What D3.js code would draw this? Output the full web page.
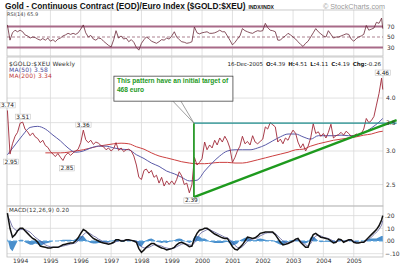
<!DOCTYPE html>
<html lang="en">
  <head>
    <meta charset="UTF-8" />
    <script src="https://d3js.org/d3.v7.min.js"></script>
    <title>Gold / Euro Index</title>
    <style type="text/css">
      body {
        margin: 0;
        background: #fff;
      }
      svg {
        display: block;
        font-family: Arial, 'Liberation Sans', sans-serif;
      }
      .axis-r path,
      .axis-r line,
      .axis-x path,
      .axis-x line {
        display: none;
      }
      .axis-r text,
      .axis-x text {
        fill: #333;
        font-size: 6px;
        font-family: 'DejaVu Sans', sans-serif;
      }
      .small {
        font-family: 'DejaVu Sans', sans-serif;
      }
    </style>
  </head>
  <body>
    <svg width="400" height="266"></svg>
  </body>
  <script type="text/javascript">
    // monthly closes from Aug 1993 to Nov 2005, then the two December weeks
    const firstMonth = new Date(1993, 7, 1);
    const lastMonth = new Date(2005, 11, 1);
    const lastWeeks = ['2005-12-02', '2005-12-16'];

    const price = [
      3.74, 2.95, 3.12, 3.25, 3.32,
      3.49, 3.51, 3.38, 3.33, 3.26, 3.31, 3.24, 3.21, 3.14, 3.18, 3.09, 3.06,
      2.99, 2.95, 2.91, 2.96, 2.9, 2.85, 2.93, 2.97, 2.93, 2.97, 3.0, 3.03,
      3.14, 3.36, 3.19, 3.14, 3.18, 3.11, 3.15, 3.13, 3.09, 3.07, 3.02, 3.05,
      3.0, 3.04, 3.14, 3.01, 3.05, 2.99, 3.02, 3.03, 3.0, 2.92, 2.78, 2.6,
      2.57, 2.7, 2.72, 2.66, 2.7, 2.6, 2.63, 2.52, 2.6, 2.48, 2.55, 2.5,
      2.55, 2.5, 2.57, 2.68, 2.62, 2.5, 2.52, 2.39, 2.5, 2.9, 2.78, 2.82,
      2.88, 3.15, 3.02, 3.1, 3.05, 3.18, 3.1, 3.22, 3.15, 3.25, 3.17, 3.05,
      2.82, 2.9, 3.0, 3.08, 3.25, 3.12, 3.16, 3.1, 3.26, 3.15, 3.12, 3.16,
      3.2, 3.42, 3.38, 3.5, 3.46, 3.42, 3.15, 3.2, 3.12, 3.22, 3.18, 3.28,
      3.36, 3.3, 3.15, 3.05, 3.12, 3.0, 3.08, 3.22, 3.48, 3.3, 3.33, 3.25,
      3.3, 3.22, 3.32, 3.47, 3.22, 3.26, 3.28, 3.32, 3.27, 3.34, 3.3, 3.25,
      3.26, 3.29, 3.27, 3.3, 3.38, 3.58, 3.5, 3.54, 3.62, 3.85, 4.1,
      4.46, 4.19,
    ];

    const rsi = [
      73, 44, 58, 63, 60,
      63, 60, 54, 52, 48, 50, 49, 46, 44, 47, 44, 48,
      42, 45, 41, 46, 48, 52, 54, 57, 55, 57, 55, 58,
      65, 73, 58, 50, 53, 46, 44, 48, 47, 42, 38, 34,
      31, 45, 62, 48, 52, 46, 48, 41, 45, 40, 30, 25,
      38, 45, 50, 47, 42, 40, 38, 41, 45, 44, 48, 46,
      52, 60, 50, 45, 41, 40, 38, 39, 41, 69, 58, 56,
      58, 59, 60, 57, 57, 58, 60, 63, 60, 60, 52, 44,
      35, 40, 46, 52, 66, 62, 60, 58, 57, 60, 62, 61,
      62, 76, 68, 63, 62, 60, 44, 44, 49, 52, 57, 54,
      50, 46, 41, 36, 32, 38, 42, 50, 58, 66, 60, 56,
      52, 50, 62, 55, 48, 50, 50, 52, 54, 56, 55, 46,
      42, 47, 50, 52, 55, 72, 63, 65, 67, 78, 76,
      86, 65.9,
    ];

    const macd = [
      0.22, 0.1, 0.03, 0.05, 0.08,
      0.1, 0.1, 0.08, 0.06, 0.04, 0.02, 0.01, -0.01, -0.04, -0.045, -0.05, -0.055,
      -0.055, -0.05, -0.05, -0.05, -0.04, -0.03, -0.025, -0.02, -0.015, -0.015, 0.0, 0.025,
      0.06, 0.09, 0.08, 0.06, 0.04, 0.02, 0.01, 0.0, -0.01, -0.015, -0.02, -0.025,
      -0.02, -0.01, 0.01, 0.01, 0.0, 0.0, 0.01, 0.01, 0.005, 0.0, -0.01, -0.06,
      -0.09, -0.07, -0.05, -0.035, -0.02, -0.02, -0.035, -0.045, -0.055, -0.06, -0.07, -0.065,
      -0.06, -0.05, -0.03, -0.015, -0.01, -0.02, -0.03, -0.045, -0.04, 0.02, 0.06, 0.085,
      0.09, 0.1, 0.1, 0.085, 0.07, 0.055, 0.045, 0.035, 0.025, 0.02, 0.02, -0.01,
      -0.045, -0.065, -0.07, -0.05, -0.03, 0.0, 0.03, 0.025, 0.02, 0.025, 0.04, 0.06,
      0.065, 0.07, 0.07, 0.07, 0.07, 0.05, 0.02, -0.01, -0.03, -0.025, -0.02, -0.01,
      0.0, 0.015, 0.02, -0.01, -0.03, -0.05, -0.05, 0.01, 0.05, 0.06, 0.045, 0.03,
      0.025, 0.02, 0.015, 0.0, -0.015, -0.01, 0.015, 0.01, -0.01, 0.0, 0.01, 0.01,
      -0.01, -0.015, -0.015, -0.01, -0.01, 0.01, 0.03, 0.05, 0.07, 0.09, 0.12,
      0.165, 0.2,
    ];

    const signal = [
      0.2, 0.16, 0.11, 0.09, 0.08,
      0.09, 0.09, 0.09, 0.08, 0.07, 0.05, 0.03, 0.015, 0.0, -0.015, -0.03, -0.04,
      -0.045, -0.05, -0.05, -0.05, -0.045, -0.04, -0.035, -0.03, -0.025, -0.02, -0.015, 0.0,
      0.02, 0.05, 0.065, 0.065, 0.055, 0.04, 0.03, 0.015, 0.005, -0.005, -0.01, -0.015,
      -0.02, -0.015, -0.005, 0.0, 0.005, 0.005, 0.005, 0.005, 0.005, 0.003, 0.0, -0.02,
      -0.045, -0.055, -0.055, -0.05, -0.04, -0.03, -0.03, -0.035, -0.04, -0.05, -0.055, -0.06,
      -0.06, -0.055, -0.045, -0.035, -0.025, -0.02, -0.025, -0.03, -0.035, -0.015, 0.02, 0.05,
      0.07, 0.08, 0.09, 0.09, 0.08, 0.07, 0.06, 0.05, 0.04, 0.03, 0.025, 0.01,
      -0.01, -0.035, -0.05, -0.055, -0.045, -0.025, 0.0, 0.01, 0.015, 0.02, 0.025, 0.04,
      0.05, 0.06, 0.065, 0.065, 0.065, 0.06, 0.04, 0.02, 0.0, -0.01, -0.015, -0.012,
      -0.005, 0.005, 0.01, 0.0, -0.015, -0.03, -0.04, -0.02, 0.015, 0.04, 0.045, 0.04,
      0.03, 0.025, 0.02, 0.01, 0.0, -0.005, 0.0, 0.005, 0.0, -0.002, 0.003, 0.006,
      0.0, -0.008, -0.012, -0.012, -0.01, 0.0, 0.015, 0.03, 0.05, 0.07, 0.09,
      0.125, 0.16,
    ];

    const hist = [
      0.02, -0.06, -0.08, -0.04, 0.0,
      0.01, 0.01, -0.01, -0.02, -0.03, -0.03, -0.02, -0.025, -0.04, -0.03, -0.02, -0.015,
      -0.01, 0.0, 0.0, 0.0, 0.005, 0.01, 0.01, 0.01, 0.01, 0.005, 0.015, 0.025,
      0.04, 0.04, 0.015, -0.005, -0.015, -0.02, -0.02, -0.015, -0.015, -0.01, -0.01, -0.01,
      0.0, 0.005, 0.015, 0.01, -0.005, -0.005, 0.005, 0.005, 0.0, -0.003, -0.01, -0.04,
      -0.045, -0.015, 0.005, 0.015, 0.02, 0.01, -0.005, -0.01, -0.015, -0.01, -0.015, -0.005,
      0.0, 0.005, 0.015, 0.02, 0.015, 0.0, -0.005, -0.015, -0.005, 0.035, 0.04, 0.035,
      0.02, 0.02, 0.01, -0.005, -0.01, -0.015, -0.015, -0.015, -0.015, -0.01, -0.005, -0.02,
      -0.035, -0.03, -0.02, 0.005, 0.015, 0.025, 0.03, 0.015, 0.005, 0.005, 0.015, 0.02,
      0.015, 0.01, 0.005, 0.005, 0.005, -0.01, -0.02, -0.03, -0.03, -0.015, -0.005, 0.002,
      0.005, 0.01, 0.01, -0.01, -0.015, -0.02, -0.01, 0.03, 0.035, 0.02, 0.0, -0.01,
      -0.005, -0.005, -0.005, -0.01, -0.015, -0.005, 0.015, 0.005, -0.01, 0.002, 0.007, 0.004,
      -0.01, -0.007, -0.003, 0.002, 0.0, 0.01, 0.015, 0.02, 0.02, 0.02, 0.03,
      0.04, 0.04,
    ];

    // moving averages read every quarter from Aug 1993, plus the last week
    const ma50 = [
      2.94, 3.1, 3.27, 3.41, 3.43, 3.38, 3.27, 3.17, 3.05, 2.98,
      3.0, 3.05, 3.08, 3.08, 3.05, 3.03, 3.02, 2.94, 2.88, 2.81, 2.76, 2.69,
      2.65, 2.6, 2.55, 2.56, 2.69, 2.81, 2.92, 3.0, 3.02, 3.02, 3.02, 3.05,
      3.1, 3.17, 3.24, 3.29, 3.29, 3.24, 3.2, 3.26, 3.26, 3.26, 3.27, 3.26,
      3.26, 3.31, 3.4, 3.51, 3.58,
    ];
    const ma200 = [
      null, null, null, null, null, 2.97, 2.97, 2.97, 2.98, 3.0,
      3.02, 3.05, 3.08, 3.1, 3.12, 3.13, 3.12, 3.07, 3.03, 2.97, 2.92, 2.89,
      2.86, 2.83, 2.81, 2.8, 2.8, 2.81, 2.82, 2.82, 2.81, 2.81, 2.83, 2.86,
      2.89, 2.92, 2.95, 2.98, 3.02, 3.03, 3.08, 3.12, 3.15, 3.18, 3.2, 3.22,
      3.24, 3.27, 3.29, 3.33, 3.34,
    ];

    // labelled highs and lows
    const callouts = [
      { date: '1993-08-01', value: 3.74, above: true, dx: 0 },
      { date: '1993-09-01', value: 2.95, above: false, dx: 1 },
      { date: '1994-02-01', value: 3.51, above: true, dx: 0 },
      { date: '1995-06-01', value: 2.85, above: false, dx: 4 },
      { date: '1996-02-01', value: 3.36, above: true, dx: 0 },
      { date: '1999-08-01', value: 2.39, above: false, dx: 2 },
      { date: '2005-12-02', value: 4.46, above: true, dx: 1 },
    ];

    // triangle drawn on the chart
    const triangleBase = { date: '1999-09-25', low: 2.336, high: 3.49 };
    const triangleEnd = { date: '2006-06-01', top: 3.49, trend: 3.55 };

    const years = d3.range(1994, 2006);
    const rsiTicks = [30, 50, 70];
    const priceTicks = [2.5, 3.0, 3.5, 4.0];
    const macdTicks = [-0.1, 0, 0.1, 0.2];

    // ---

    const parse = d3.timeParse('%Y-%m-%d');
    const dates = d3.timeMonth.range(firstMonth, lastMonth).concat(lastWeeks.map(parse));
    const maDates = d3.range(ma50.length - 1).map((i) => d3.timeMonth.offset(firstMonth, i * 3));
    maDates.push(parse(lastWeeks[1]));

    const left = 7;
    const right = 383;
    const panels = {
      rsi: { top: 10, bottom: 56 },
      main: { top: 57, bottom: 206 },
      macd: { top: 206, bottom: 257 },
    };

    const svg = d3.select('svg');

    const x = d3
      .scaleTime()
      .domain([new Date(1993, 6, 27), new Date(2005, 11, 19)])
      .range([left, right]);
    const yRsi = d3.scaleLinear().domain([0, 100]).range([63.25, 10.75]);
    const yPrice = d3.scaleLog().domain([2.225, 5.0]).range([206, 57]);
    const yMacd = d3.scaleLinear().domain([-0.126, 0.2756]).range([257, 206]);

    const yearDates = years.map((y) => new Date(y, 0, 1));

    // grid
    const grid = svg.append('g');
    Object.values(panels).forEach((p) => {
      grid
        .selectAll(null)
        .data(yearDates)
        .enter()
        .append('line')
        .attr('x1', (d) => x(d))
        .attr('x2', (d) => x(d))
        .attr('y1', p.top)
        .attr('y2', p.bottom)
        .attr('stroke', '#d9d9d9')
        .attr('stroke-width', 0.8);
    });
    grid
      .selectAll(null)
      .data(priceTicks)
      .enter()
      .append('line')
      .attr('x1', left)
      .attr('x2', right)
      .attr('y1', (d) => yPrice(d))
      .attr('y2', (d) => yPrice(d))
      .attr('stroke', '#d9d9d9')
      .attr('stroke-width', 0.8);
    grid
      .selectAll(null)
      .data(macdTicks.filter((d) => d !== 0))
      .enter()
      .append('line')
      .attr('x1', left)
      .attr('x2', right)
      .attr('y1', (d) => yMacd(d))
      .attr('y2', (d) => yMacd(d))
      .attr('stroke', '#d9d9d9')
      .attr('stroke-width', 0.8);

    // panel frames
    Object.values(panels).forEach((p) => {
      svg
        .append('rect')
        .attr('x', left)
        .attr('y', p.top)
        .attr('width', right - left)
        .attr('height', p.bottom - p.top)
        .attr('fill', 'none')
        .attr('stroke', '#bdbdbd')
        .attr('stroke-width', 0.8);
    });

    // RSI panel
    const rsiG = svg.append('g');
    rsiTicks.forEach((t) => {
      rsiG
        .append('line')
        .attr('x1', left)
        .attr('x2', right)
        .attr('y1', yRsi(t))
        .attr('y2', yRsi(t))
        .attr('stroke', t === 50 ? '#8a4a60' : '#a86a88')
        .attr('stroke-width', t === 50 ? 0.7 : 1.8)
        .attr('stroke-dasharray', t === 50 ? '3,2' : null);
    });
    rsiG
      .append('path')
      .datum(rsi)
      .attr('fill', 'none')
      .attr('stroke', '#6a2838')
      .attr('stroke-width', 0.8)
      .attr(
        'd',
        d3
          .line()
          .x((d, i) => x(dates[i]))
          .y((d) => yRsi(d))
      );

    // price panel
    const mainG = svg.append('g');
    const maLine = d3
      .line()
      .defined((d) => d != null)
      .x((d, i) => x(maDates[i]))
      .y((d) => yPrice(d))
      .curve(d3.curveMonotoneX);
    mainG
      .append('path')
      .datum(ma200)
      .attr('fill', 'none')
      .attr('stroke', '#cc4040')
      .attr('stroke-width', 1)
      .attr('d', maLine);
    mainG
      .append('path')
      .datum(ma50)
      .attr('fill', 'none')
      .attr('stroke', '#5a5aa8')
      .attr('stroke-width', 1)
      .attr('d', maLine);
    mainG
      .append('path')
      .datum(price)
      .attr('fill', 'none')
      .attr('stroke', '#a02838')
      .attr('stroke-width', 0.9)
      .attr(
        'd',
        d3
          .line()
          .x((d, i) => x(dates[i]))
          .y((d) => yPrice(d))
      );

    // triangle pattern
    const tx0 = x(parse(triangleBase.date));
    const tx1 = x(parse(triangleEnd.date));
    mainG
      .append('line')
      .attr('x1', tx0)
      .attr('x2', tx1)
      .attr('y1', yPrice(triangleBase.high))
      .attr('y2', yPrice(triangleEnd.top))
      .attr('stroke', '#1d8c8c')
      .attr('stroke-width', 1.4);
    mainG
      .append('line')
      .attr('x1', tx0)
      .attr('x2', tx0)
      .attr('y1', yPrice(triangleBase.low))
      .attr('y2', yPrice(triangleBase.high))
      .attr('stroke', '#2a9a2a')
      .attr('stroke-width', 1.8);
    mainG
      .append('line')
      .attr('x1', tx0)
      .attr('x2', tx1)
      .attr('y1', yPrice(triangleBase.low))
      .attr('y2', yPrice(triangleEnd.trend))
      .attr('stroke', '#1e9a1e')
      .attr('stroke-width', 2.4);

    // callout box
    const ax = tx0;
    const ay = yPrice(triangleBase.high);
    const note = mainG.append('g');
    note
      .append('path')
      .attr('d', `M${ax - 21},${ay - 22} L${ax},${ay} L${ax - 13},${ay - 22}`)
      .attr('fill', '#fff')
      .attr('stroke', '#777')
      .attr('stroke-width', 0.7);
    note
      .append('rect')
      .attr('x', ax - 80)
      .attr('y', ay - 47)
      .attr('width', 119)
      .attr('height', 25)
      .attr('fill', '#fff')
      .attr('stroke', '#444')
      .attr('stroke-width', 0.8);
    note
      .append('text')
      .attr('x', ax - 77)
      .attr('y', ay - 40)
      .attr('fill', '#1e9a1e')
      .attr('font-size', 6.6)
      .attr('font-weight', 'bold')
      .text('This pattern have an initial target of');
    note
      .append('text')
      .attr('x', ax - 77)
      .attr('y', ay - 31.5)
      .attr('fill', '#1e9a1e')
      .attr('font-size', 6.6)
      .attr('font-weight', 'bold')
      .text('468 euro');

    // high / low labels
    const calloutG = mainG
      .selectAll('.callout')
      .data(callouts)
      .enter()
      .append('g')
      .attr('class', 'callout');
    calloutG
      .append('text')
      .attr('class', 'small')
      .attr('x', (d) => x(parse(d.date)) + d.dx)
      .attr('y', (d) => yPrice(d.value) + (d.above ? -3.5 : 9.5))
      .attr('text-anchor', 'middle')
      .attr('font-size', 5.8)
      .attr('fill', '#222')
      .text((d) => d3.format('.2f')(d.value));
    calloutG.each(function () {
      const g = d3.select(this);
      const b = g.select('text').node().getBBox();
      g.insert('rect', 'text')
        .attr('x', b.x - 1)
        .attr('y', b.y + 0.5)
        .attr('width', b.width + 2)
        .attr('height', b.height - 0.5)
        .attr('fill', '#fff')
        .attr('stroke', '#bbb')
        .attr('stroke-width', 0.5);
    });

    // MACD panel
    const macdG = svg.append('g');
    macdG
      .append('path')
      .datum(hist)
      .attr('fill', '#4a8fcc')
      .attr(
        'd',
        d3
          .area()
          .x((d, i) => x(dates[i]))
          .y0(yMacd(0))
          .y1((d) => yMacd(d))
      );
    macdG
      .append('line')
      .attr('x1', left)
      .attr('x2', right)
      .attr('y1', yMacd(0))
      .attr('y2', yMacd(0))
      .attr('stroke', '#5aa4dc')
      .attr('stroke-width', 1)
      .attr('stroke-dasharray', '4,2');
    macdG
      .append('path')
      .datum(signal)
      .attr('fill', 'none')
      .attr('stroke', '#4a4a90')
      .attr('stroke-width', 0.7)
      .attr(
        'd',
        d3
          .line()
          .x((d, i) => x(dates[i]))
          .y((d) => yMacd(d))
      );
    macdG
      .append('path')
      .datum(macd)
      .attr('fill', 'none')
      .attr('stroke', '#111')
      .attr('stroke-width', 1.5)
      .attr(
        'd',
        d3
          .line()
          .x((d, i) => x(dates[i]))
          .y((d) => yMacd(d))
      );

    // axes
    svg
      .append('g')
      .attr('class', 'axis-r')
      .attr('transform', `translate(${right}, 0)`)
      .call(d3.axisRight(yRsi).tickValues(rsiTicks).tickSize(0).tickPadding(4));
    svg
      .append('g')
      .attr('class', 'axis-r')
      .attr('transform', `translate(${right}, 0)`)
      .call(
        d3
          .axisRight(yPrice)
          .tickValues(priceTicks)
          .tickFormat(d3.format('.1f'))
          .tickSize(0)
          .tickPadding(3)
      );
    svg
      .append('g')
      .attr('class', 'axis-r')
      .attr('transform', `translate(${right}, 0)`)
      .call(
        d3
          .axisRight(yMacd)
          .tickValues(macdTicks)
          .tickFormat((d) => d3.format('.2f')(d).replace('0.', '.'))
          .tickSize(0)
          .tickPadding(2)
      );
    svg
      .append('g')
      .attr('class', 'axis-x')
      .attr('transform', `translate(0, ${panels.macd.bottom})`)
      .call(d3.axisBottom(x).tickValues(yearDates).tickFormat(d3.timeFormat('%Y')).tickSize(0).tickPadding(2));

    // texts
    const title = svg
      .append('text')
      .attr('x', 5)
      .attr('y', 8.5)
      .attr('font-size', 8.3)
      .attr('font-weight', 'bold')
      .attr('fill', '#111')
      .text('Gold - Continuous Contract (EOD)/Euro Index ($GOLD:$XEU)');
    title.append('tspan').attr('dx', 3).attr('font-size', 5).text('INDX/INDX');

    svg
      .append('text')
      .attr('x', 385)
      .attr('y', 8.5)
      .attr('text-anchor', 'end')
      .attr('font-size', 7.2)
      .attr('fill', '#9a9a9a')
      .text('\u00a9 StockCharts.com');

    svg
      .append('text')
      .attr('class', 'small')
      .attr('x', 7)
      .attr('y', 15.5)
      .attr('font-size', 5)
      .attr('fill', '#444')
      .text('RSI(14) 65.9');

    const legend = [
      { text: '$GOLD:$XEU Weekly', color: '#333' },
      { text: 'MA(50) 3.58', color: '#4a4a9a' },
      { text: 'MA(200) 3.34', color: '#c03a3a' },
    ];
    svg
      .selectAll('.legend')
      .data(legend)
      .enter()
      .append('text')
      .attr('class', 'legend small')
      .attr('x', 9)
      .attr('y', (d, i) => 66 + i * 6)
      .attr('font-size', 6)
      .attr('letter-spacing', 0.2)
      .attr('fill', (d) => d.color)
      .text((d) => d.text);

    const quote = svg
      .append('text')
      .attr('class', 'small')
      .attr('x', 381)
      .attr('y', 66)
      .attr('text-anchor', 'end')
      .attr('font-size', 5.5)
      .attr('fill', '#222');
    [
      ['', '16-Dec-2005'],
      ['O:', '4.39'],
      ['H:', '4.51'],
      ['L:', '4.11'],
      ['C:', '4.19'],
      ['Chg:', '-0.26'],
    ].forEach(([k, v], i) => {
      const t = quote.append('tspan').attr('dx', i ? 3 : 0);
      if (k) t.attr('font-weight', 'bold').text(k);
      quote.append('tspan').text(v);
    });

    svg
      .append('text')
      .attr('class', 'small')
      .attr('x', 9)
      .attr('y', 212)
      .attr('font-size', 5.6)
      .attr('letter-spacing', 0.2)
      .attr('fill', '#333')
      .text('MACD(12,26,9) 0.20');
  </script>
</html>
